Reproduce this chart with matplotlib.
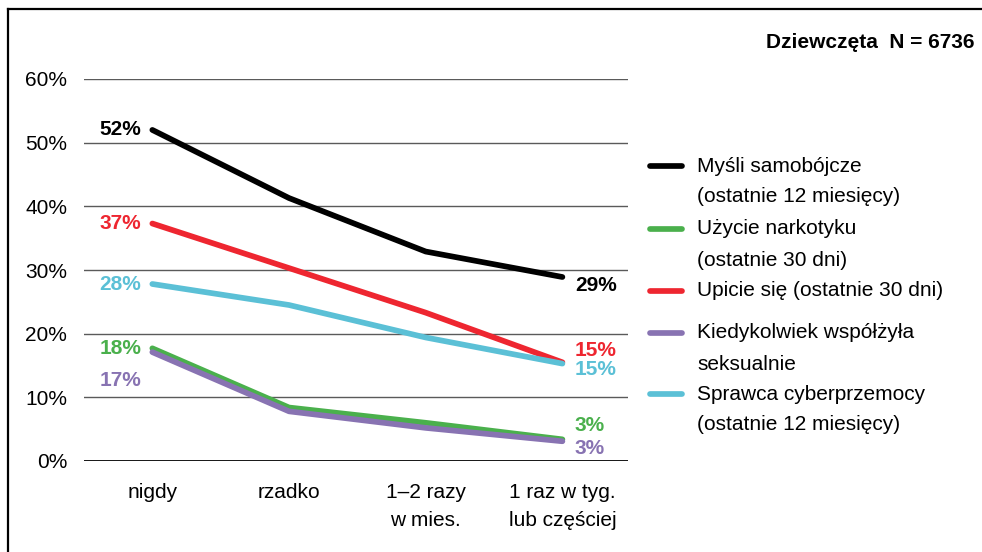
import matplotlib
matplotlib.use("Agg")
import matplotlib.pyplot as plt
from matplotlib.lines import Line2D

plt.rcParams['font.family'] = ['Liberation Sans', 'DejaVu Sans']

categories = ["nigdy", "rzadko", "1–2 razy\nw mies.", "1 raz w tyg.\nlub częściej"]
mysli = [52.0, 41.3, 32.9, 28.9]
upicie = [37.3, 30.3, 23.3, 15.5]
cyber = [27.8, 24.5, 19.4, 15.3]
narkotyk = [17.7, 8.4, 6.0, 3.4]
seks = [17.1, 7.8, 5.2, 3.1]

start_labels = ["52%", "37%", "28%", "18%", "17%"]
end_labels = ["29%", "15%", "15%", "3%", "3%"]
legend_labels = ["Myśli samobójcze\n(ostatnie 12 miesięcy)",
                 "Użycie narkotyku\n(ostatnie 30 dni)",
                 "Upicie się (ostatnie 30 dni)",
                 "Kiedykolwiek współżyła\nseksualnie",
                 "Sprawca cyberprzemocy\n(ostatnie 12 miesięcy)"]
yticks = [0, 10, 20, 30, 40, 50, 60]
title = "Dziewczęta  N = 6736"

C_BLACK = "#000000"
C_GREEN = "#4AB04C"
C_RED = "#EE2630"
C_PURPLE = "#8873B2"
C_CYAN = "#5BC0D6"

FS = 15
W, H = 982, 552
fig = plt.figure(figsize=(W / 100, H / 100), dpi=100)
ax = fig.add_axes([84 / W, 1 - 461 / H, (628 - 84) / W, (461 - 79) / H])

x = list(range(len(categories)))
for v in yticks[1:]:
    ax.axhline(v, color="#5a5a5a", lw=1.0, zorder=1)
ax.axhline(0, color="black", lw=2.0, zorder=1)

lw = 4.1
series = [(mysli, C_BLACK), (upicie, C_RED), (cyber, C_CYAN), (narkotyk, C_GREEN), (seks, C_PURPLE)]
for vals, c in series:
    ax.plot(x, vals, color=c, lw=lw, solid_capstyle="round", solid_joinstyle="round", zorder=3)

ax.set_xlim(-0.5, 3.48)
ax.set_ylim(0, 60)
for s in ax.spines.values():
    s.set_visible(False)
ax.set_yticks(yticks)
ax.set_yticklabels([f"{v}%" for v in yticks], fontsize=FS)
ax.tick_params(axis="y", length=0, pad=12)
ax.set_xticks(x)
ax.set_xticklabels(categories, fontsize=FS, linespacing=1.65, va="top")
ax.tick_params(axis="x", length=0, pad=15.5)

start_y = [mysli[0], upicie[0], cyber[0], narkotyk[0] - 0.1, seks[0] - 4.4]
start_c = [C_BLACK, C_RED, C_CYAN, C_GREEN, C_PURPLE]
for lab, yy, c in zip(start_labels, start_y, start_c):
    ax.annotate(lab, (0, yy), xytext=(-8, 0), textcoords="offset points",
                ha="right", va="center", fontsize=FS, fontweight="bold", color=c)

end_y = [mysli[3] - 1.4, upicie[3] + 1.8, cyber[3] - 1.0, narkotyk[3] + 2.2, seks[3] - 1.1]
end_c = [C_BLACK, C_RED, C_CYAN, C_GREEN, C_PURPLE]
for lab, yy, c in zip(end_labels, end_y, end_c):
    ax.annotate(lab, (3, yy), xytext=(9, 0), textcoords="offset points",
                ha="left", va="center", fontsize=FS, fontweight="bold", color=c)

# legend (manual)
leg_colors = [C_BLACK, C_GREEN, C_RED, C_PURPLE, C_CYAN]
leg_y = [166, 229, 291, 333, 394]
for lab, c, yy in zip(legend_labels, leg_colors, leg_y):
    fig.add_artist(Line2D([650 / W, 682 / W], [1 - yy / H, 1 - yy / H], color=c, lw=4.1,
                          solid_capstyle="round"))
    for i, line in enumerate(lab.split("\n")):
        fig.text(697 / W, 1 - (yy + 31 * i) / H, line, ha="left", va="center", fontsize=FS)

fig.text(974 / W, 1 - 43 / H, title, ha="right", va="center", fontsize=FS, fontweight="bold")

# frame (left and top)
fig.add_artist(Line2D([7.5 / W, 7.5 / W], [0, 1 - 9 / H], color="black", lw=1.6))
fig.add_artist(Line2D([7.5 / W, 1], [1 - 9 / H, 1 - 9 / H], color="black", lw=1.6))

fig.savefig("out.png", dpi=100)
